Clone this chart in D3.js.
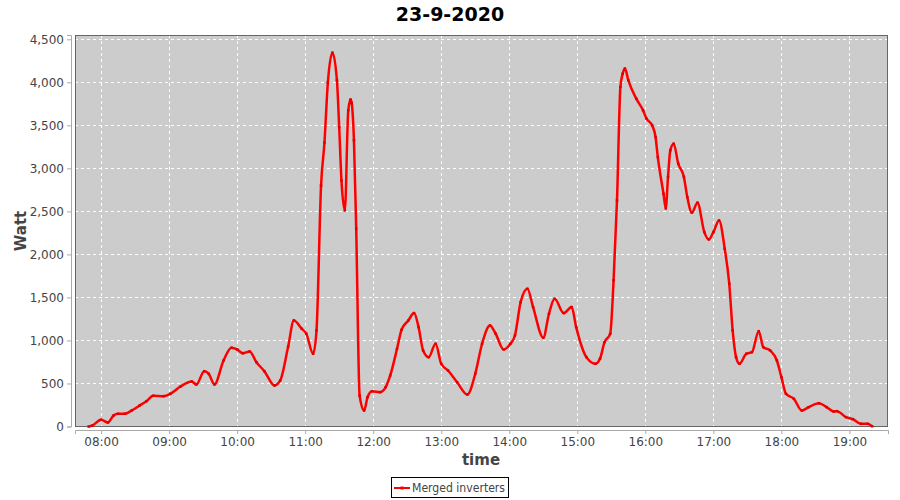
<!DOCTYPE html>
<html>
<head>
<meta charset="utf-8">
<script src="https://cdn.jsdelivr.net/npm/d3@7"></script>
<style>
  body { margin: 0; background: #fff; }
  svg { font-family: "DejaVu Sans", sans-serif; }
</style>
</head>
<body>
<svg id="chart" width="900" height="500"></svg>
<script>
// readings of the day (time of day, watt)
const times = [
  '07:49', '07:52', '08:00', '08:06', '08:11', '08:15', '08:21', '08:27', '08:34', '08:40',
  '08:46', '08:55', '09:01', '09:10', '09:20', '09:24', '09:31', '09:35', '09:40', '09:48',
  '09:55', '10:00', '10:05', '10:11', '10:17', '10:24', '10:33', '10:38', '10:45', '10:50',
  '10:57', '11:01', '11:07', '11:10', '11:14', '11:17', '11:20', '11:24', '11:28', '11:30',
  '11:32', '11:35', '11:38', '11:40', '11:41', '11:43', '11:45', '11:48', '11:52', '11:55',
  '11:59', '12:06', '12:11', '12:15', '12:21', '12:25', '12:31', '12:36', '12:40', '12:44',
  '12:49', '12:55', '13:00', '13:06', '13:14', '13:23', '13:30', '13:36', '13:43', '13:48',
  '13:55', '14:01', '14:05', '14:10', '14:16', '14:21', '14:30', '14:35', '14:40', '14:48',
  '14:55', '14:59', '15:08', '15:16', '15:20', '15:24', '15:29', '15:32', '15:35', '15:38',
  '15:40', '15:42', '15:45', '15:52', '15:58', '16:01', '16:06', '16:09', '16:11', '16:16',
  '16:18', '16:20', '16:22', '16:25', '16:29', '16:34', '16:37', '16:41', '16:46', '16:52',
  '16:56', '17:00', '17:05', '17:10', '17:14', '17:17', '17:20', '17:23', '17:29', '17:34',
  '17:40', '17:44', '17:50', '17:56', '18:00', '18:04', '18:11', '18:18', '18:24', '18:33',
  '18:40', '18:46', '18:49', '18:57', '19:03', '19:10', '19:16', '19:20'
];
const watts = [
  0, 10, 78, 47, 128, 148, 148, 186, 244, 294,
  357, 353, 380, 465, 523, 488, 643, 612, 488, 767,
  915, 895, 852, 872, 748, 643, 477, 535, 930, 1233,
  1136, 1078, 845, 1116, 2800, 3300, 3997, 4345, 4023, 3480,
  2860, 2512, 3674, 3800, 3760, 3326, 2300, 360, 186, 341,
  410, 399, 457, 593, 903, 1124, 1233, 1318, 1155, 884,
  806, 962, 729, 651, 515, 372, 613, 962, 1174, 1078,
  895, 962, 1058, 1445, 1601, 1388, 1031, 1310, 1484, 1318,
  1388, 1155, 806, 729, 787, 980, 1078, 1700, 2628, 3946,
  4100, 4160, 4023, 3810, 3674, 3578, 3500, 3364, 3131, 2705,
  2535, 2900, 3209, 3287, 3055, 2900, 2666, 2485, 2601, 2259,
  2174, 2259, 2395, 2066, 1659, 1116, 806, 729, 845, 864,
  1108, 922, 884, 767, 573, 380, 322, 186, 224, 271,
  224, 174, 178, 108, 85, 31, 31, 3
];
const yTicks = [0, 500, 1000, 1500, 2000, 2500, 3000, 3500, 4000, 4500];
const xTicks = ['08:00', '09:00', '10:00', '11:00', '12:00', '13:00', '14:00', '15:00', '16:00', '17:00', '18:00', '19:00'];
const seriesName = 'Merged inverters';
const chartTitle = '23-9-2020';

const parseTime = d3.timeParse('%H:%M');
const data = times.map((t, i) => ({ t: parseTime(t), v: watts[i] }));

const svg = d3.select('#chart');
const plot = { left: 75, top: 35, right: 888, bottom: 427 };

const x = d3.scaleTime()
    .domain([parseTime('07:37'), parseTime('19:34')])
    .range([plot.left, plot.right]);
const y = d3.scaleLinear()
    .domain([0, 4550])
    .range([426.5, plot.top]);

// title
svg.append('text')
    .attr('x', 450).attr('y', 21)
    .attr('text-anchor', 'middle')
    .style('font-size', '19px').style('font-weight', 'bold')
    .attr('fill', '#000')
    .text(chartTitle);

// plot background
svg.append('rect')
    .attr('x', plot.left).attr('y', plot.top)
    .attr('width', plot.right - plot.left).attr('height', plot.bottom - plot.top)
    .attr('fill', '#cccccc');

// gridlines
const grid = svg.append('g')
    .attr('stroke', '#ffffff').attr('stroke-width', 1)
    .attr('stroke-dasharray', '3,3');
grid.selectAll('line.v')
    .data(xTicks.map(parseTime))
    .enter().append('line')
    .attr('x1', d => Math.round(x(d)) + 0.5).attr('x2', d => Math.round(x(d)) + 0.5)
    .attr('y1', plot.top).attr('y2', plot.bottom);
grid.selectAll('line.h')
    .data(yTicks)
    .enter().append('line')
    .attr('y1', d => Math.round(y(d)) + 0.5).attr('y2', d => Math.round(y(d)) + 0.5)
    .attr('x1', plot.left).attr('x2', plot.right);

// plot border
svg.append('rect')
    .attr('x', plot.left + 0.5).attr('y', plot.top + 0.5)
    .attr('width', plot.right - plot.left - 1).attr('height', plot.bottom - plot.top - 1)
    .attr('fill', 'none').attr('stroke', '#666666');

// axes, offset from the plot area
const yAxis = svg.append('g')
    .attr('transform', `translate(${plot.left - 4},0)`)
    .call(d3.axisLeft(y).tickValues(yTicks).tickSize(4).tickPadding(3).tickFormat(d3.format(',')));
const xAxis = svg.append('g')
    .attr('transform', `translate(0,${plot.bottom + 3})`)
    .call(d3.axisBottom(x).tickValues(xTicks.map(parseTime)).tickSize(4).tickPadding(3).tickFormat(d3.timeFormat('%H:%M')));
[yAxis, xAxis].forEach(a => {
    a.select('.domain').attr('stroke', '#aaaaaa');
    a.selectAll('.tick line').attr('stroke', '#aaaaaa');
    a.selectAll('.tick text')
        .attr('fill', '#444444')
        .style('font-size', '12px')
        .style('font-family', '"DejaVu Sans", sans-serif');
});

// axis labels
svg.append('text')
    .attr('transform', 'translate(26,231) rotate(-90)')
    .attr('text-anchor', 'middle')
    .style('font-size', '15px').style('font-weight', 'bold')
    .attr('fill', '#444444')
    .text('Watt');
svg.append('text')
    .attr('x', 481).attr('y', 465)
    .attr('text-anchor', 'middle')
    .style('font-size', '15px').style('font-weight', 'bold')
    .attr('fill', '#444444')
    .text('time');

// series
const line = d3.line()
    .x(d => x(d.t))
    .y(d => y(d.v))
    .curve(d3.curveMonotoneX);

svg.append('path')
    .datum(data)
    .attr('fill', 'none')
    .attr('stroke', '#ff0000')
    .attr('stroke-width', 2.5)
    .attr('stroke-linejoin', 'round')
    .attr('d', line);

svg.append('g')
    .selectAll('rect')
    .data(data)
    .enter().append('rect')
    .attr('x', d => x(d.t) - 1.25).attr('y', d => y(d.v) - 1.25)
    .attr('width', 2.5).attr('height', 2.5)
    .attr('fill', '#e00000');

// legend
const legend = svg.append('g');
legend.append('rect')
    .attr('x', 391.5).attr('y', 477.5)
    .attr('width', 117).attr('height', 20)
    .attr('fill', '#fff').attr('stroke', '#000');
legend.append('line')
    .attr('x1', 394).attr('x2', 410).attr('y1', 488).attr('y2', 488)
    .attr('stroke', '#ff0000').attr('stroke-width', 2);
legend.append('rect')
    .attr('x', 400.5).attr('y', 486.5).attr('width', 3).attr('height', 3)
    .attr('fill', '#ff0000');
legend.append('text')
    .attr('x', 412).attr('y', 492)
    .attr('textLength', 93).attr('lengthAdjust', 'spacingAndGlyphs')
    .style('font-size', '12px')
    .attr('fill', '#444444')
    .text(seriesName);
</script>
</body>
</html>
